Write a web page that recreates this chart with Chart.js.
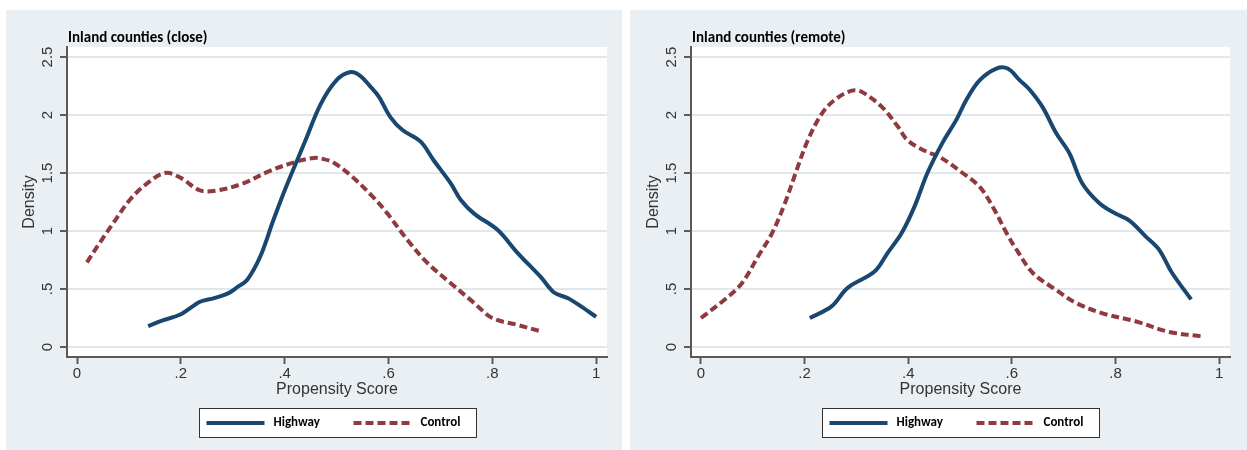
<!DOCTYPE html>
<html>
<head>
<meta charset="utf-8">
<script src="https://cdn.jsdelivr.net/npm/chart.js@4.4.1/dist/chart.umd.min.js"></script>
<style>
  body { margin: 0; background: #fff; width: 1247px; height: 450px; position: relative; overflow: hidden; }
  .panel { position: absolute; top: 10px; height: 440px; background: #e9eff3; }
  #p1 { left: 6px; width: 616px; }
  #p2 { left: 630px; width: 617px; }
  canvas { display: block; }
</style>
</head>
<body>
<div class="panel" id="p1"><canvas id="c1" width="616" height="440"></canvas></div>
<div class="panel" id="p2"><canvas id="c2" width="617" height="440"></canvas></div>
<script>
// tick values and labels
const xTicks = [0, 0.2, 0.4, 0.6, 0.8, 1];
const xTickLabels = ['0', '.2', '.4', '.6', '.8', '1'];
const yTicks = [0, 0.5, 1, 1.5, 2, 2.5];
const yTickLabels = ['0', '.5', '1', '1.5', '2', '2.5'];
const seriesNames = ['Highway', 'Control'];

// Inland counties (close)
const closeHighwayX = [0.137, 0.165, 0.199, 0.237, 0.263, 0.29, 0.31, 0.328, 0.353, 0.378, 0.40, 0.44, 0.469, 0.50, 0.527, 0.545, 0.566, 0.581, 0.604, 0.627, 0.662, 0.687, 0.72, 0.739, 0.765, 0.81, 0.849, 0.894, 0.919, 0.946, 0.971, 1.0];
const closeHighwayY = [0.18, 0.23, 0.28, 0.39, 0.42, 0.46, 0.52, 0.58, 0.78, 1.09, 1.35, 1.78, 2.09, 2.30, 2.37, 2.34, 2.24, 2.16, 1.98, 1.87, 1.77, 1.61, 1.41, 1.27, 1.15, 1.01, 0.81, 0.60, 0.47, 0.42, 0.35, 0.26];
const closeControlX = [0.019, 0.044, 0.07, 0.102, 0.135, 0.17, 0.199, 0.237, 0.27, 0.32, 0.367, 0.417, 0.456, 0.475, 0.494, 0.527, 0.571, 0.598, 0.637, 0.676, 0.72, 0.765, 0.80, 0.849, 0.89];
const closeControlY = [0.73, 0.90, 1.07, 1.27, 1.41, 1.50, 1.46, 1.35, 1.35, 1.41, 1.51, 1.59, 1.63, 1.62, 1.59, 1.48, 1.29, 1.15, 0.92, 0.72, 0.55, 0.38, 0.25, 0.19, 0.14];

// Inland counties (remote)
const remoteHighwayX = [0.21, 0.252, 0.283, 0.335, 0.36, 0.387, 0.412, 0.437, 0.466, 0.493, 0.512, 0.538, 0.57, 0.592, 0.615, 0.634, 0.659, 0.686, 0.711, 0.736, 0.769, 0.80, 0.827, 0.859, 0.884, 0.909, 0.946];
const remoteHighwayY = [0.25, 0.35, 0.51, 0.65, 0.81, 0.98, 1.21, 1.50, 1.76, 1.96, 2.13, 2.30, 2.40, 2.40, 2.30, 2.22, 2.07, 1.84, 1.67, 1.41, 1.24, 1.15, 1.09, 0.95, 0.84, 0.64, 0.41];
const remoteControlX = [0, 0.046, 0.079, 0.11, 0.137, 0.162, 0.185, 0.206, 0.233, 0.258, 0.291, 0.31, 0.349, 0.38, 0.399, 0.437, 0.46, 0.505, 0.538, 0.563, 0.59, 0.609, 0.64, 0.686, 0.724, 0.775, 0.84, 0.904, 0.971];
const remoteControlY = [0.25, 0.41, 0.55, 0.78, 0.98, 1.24, 1.53, 1.78, 2.01, 2.13, 2.21, 2.20, 2.07, 1.90, 1.78, 1.68, 1.64, 1.50, 1.38, 1.21, 0.98, 0.84, 0.64, 0.49, 0.38, 0.29, 0.22, 0.13, 0.09];

const navy = '#1a476f';
const maroon = '#8f3a3f';
const axisGray = '#5a5a5a';

function pts(xs, ys) {
    return xs.map(function(x, i) { return {x: x, y: ys[i]}; });
}

// white plot region, y tick labels (rotated), panel title and boxed legend
const panelDecor = {
    id: 'panelDecor',
    beforeDraw(chart) {
        const a = chart.chartArea;
        const ctx = chart.ctx;
        ctx.save();
        ctx.fillStyle = '#fff';
        ctx.fillRect(a.left, a.top, a.right - a.left, a.bottom - a.top);
        ctx.restore();
    },
    afterDraw(chart, args, opts) {
        const a = chart.chartArea;
        const ctx = chart.ctx;
        const ys = chart.scales.y;
        ctx.save();

        ctx.fillStyle = '#000';
        ctx.font = 'bold 15px Carlito, Lato';
        ctx.textAlign = 'left';
        ctx.textBaseline = 'middle';
        ctx.fillText(opts.title, a.left + 1, 28);

        ctx.fillStyle = '#333';
        ctx.font = '15px "Liberation Sans"';
        ctx.textAlign = 'center';
        ys.ticks.forEach(function(t, i) {
            ctx.save();
            ctx.translate(42, ys.getPixelForValue(t.value));
            ctx.rotate(-Math.PI / 2);
            ctx.fillText(yTickLabels[i], 0, 0);
            ctx.restore();
        });

        // legend box
        const boxW = 277, boxH = 29;
        const bx = Math.round((a.left + a.right) / 2 - boxW / 2) + 0.5;
        const by = 398.5;
        ctx.fillStyle = '#fff';
        ctx.fillRect(bx, by, boxW, boxH);
        ctx.strokeStyle = '#333';
        ctx.lineWidth = 1;
        ctx.strokeRect(bx, by, boxW, boxH);
        const cy = by + boxH / 2;
        const offs = [7, 154];
        chart.data.datasets.forEach(function(ds, i) {
            const sx = bx + offs[i];
            ctx.beginPath();
            ctx.setLineDash(ds.borderDash || []);
            ctx.strokeStyle = ds.borderColor;
            ctx.lineWidth = 4;
            ctx.moveTo(sx, cy);
            ctx.lineTo(sx + 58, cy);
            ctx.stroke();
            ctx.setLineDash([]);
            ctx.fillStyle = '#000';
            ctx.font = 'bold 13px Carlito, Lato';
            ctx.textAlign = 'left';
            ctx.fillText(ds.label, sx + 67, cy);
        });
        ctx.restore();
    }
};

function makePanel(canvasId, title, rightPad, hx, hy, cx, cy) {
    const config = {
        type: 'line',
        data: {
            datasets: [{
                label: seriesNames[0],
                data: pts(hx, hy),
                borderColor: navy,
                borderWidth: 4,
                pointRadius: 0,
                tension: 0.35,
                fill: false
            }, {
                label: seriesNames[1],
                data: pts(cx, cy),
                borderColor: maroon,
                borderWidth: 4,
                borderDash: [8, 4],
                pointRadius: 0,
                tension: 0.35,
                fill: false
            }]
        },
        options: {
            responsive: false,
            animation: false,
            layout: { padding: { top: 37, left: 0, right: rightPad, bottom: 51 } },
            plugins: {
                legend: { display: false },
                tooltip: { enabled: false },
                panelDecor: { title: title }
            },
            scales: {
                x: {
                    type: 'linear',
                    min: -0.0193,
                    max: 1.021,
                    afterBuildTicks: function(s) { s.ticks = xTicks.map(function(v) { return {value: v}; }); },
                    afterFit: function(s) { s.height = 42; },
                    grid: { drawOnChartArea: false, tickLength: 7, tickColor: axisGray, tickWidth: 2 },
                    border: { color: axisGray, width: 2 },
                    ticks: {
                        padding: 1,
                        color: '#333',
                        font: { family: '"Liberation Sans", Arial', size: 15 },
                        callback: function(v, i) { return xTickLabels[i]; }
                    },
                    title: {
                        display: true,
                        text: 'Propensity Score',
                        color: '#333',
                        font: { family: '"Liberation Sans", Arial', size: 16 },
                        padding: { top: 0, bottom: 0 }
                    }
                },
                y: {
                    min: -0.086,
                    max: 2.586,
                    afterBuildTicks: function(s) { s.ticks = yTicks.map(function(v) { return {value: v}; }); },
                    afterFit: function(s) { s.width = 61; },
                    grid: { color: '#e1e8ec', lineWidth: 2, tickLength: 7, tickColor: axisGray, tickWidth: 2 },
                    border: { color: axisGray, width: 2 },
                    ticks: { display: false },
                    title: {
                        display: true,
                        text: 'Density',
                        color: '#333',
                        font: { family: '"Liberation Sans", Arial', size: 16 },
                        padding: { top: 14, bottom: 0 }
                    }
                }
            }
        },
        plugins: [panelDecor]
    };
    return new Chart(document.getElementById(canvasId), config);
}

makePanel('c1', 'Inland counties (close)', 15, closeHighwayX, closeHighwayY, closeControlX, closeControlY);
makePanel('c2', 'Inland counties (remote)', 17, remoteHighwayX, remoteHighwayY, remoteControlX, remoteControlY);
</script>
</body>
</html>
